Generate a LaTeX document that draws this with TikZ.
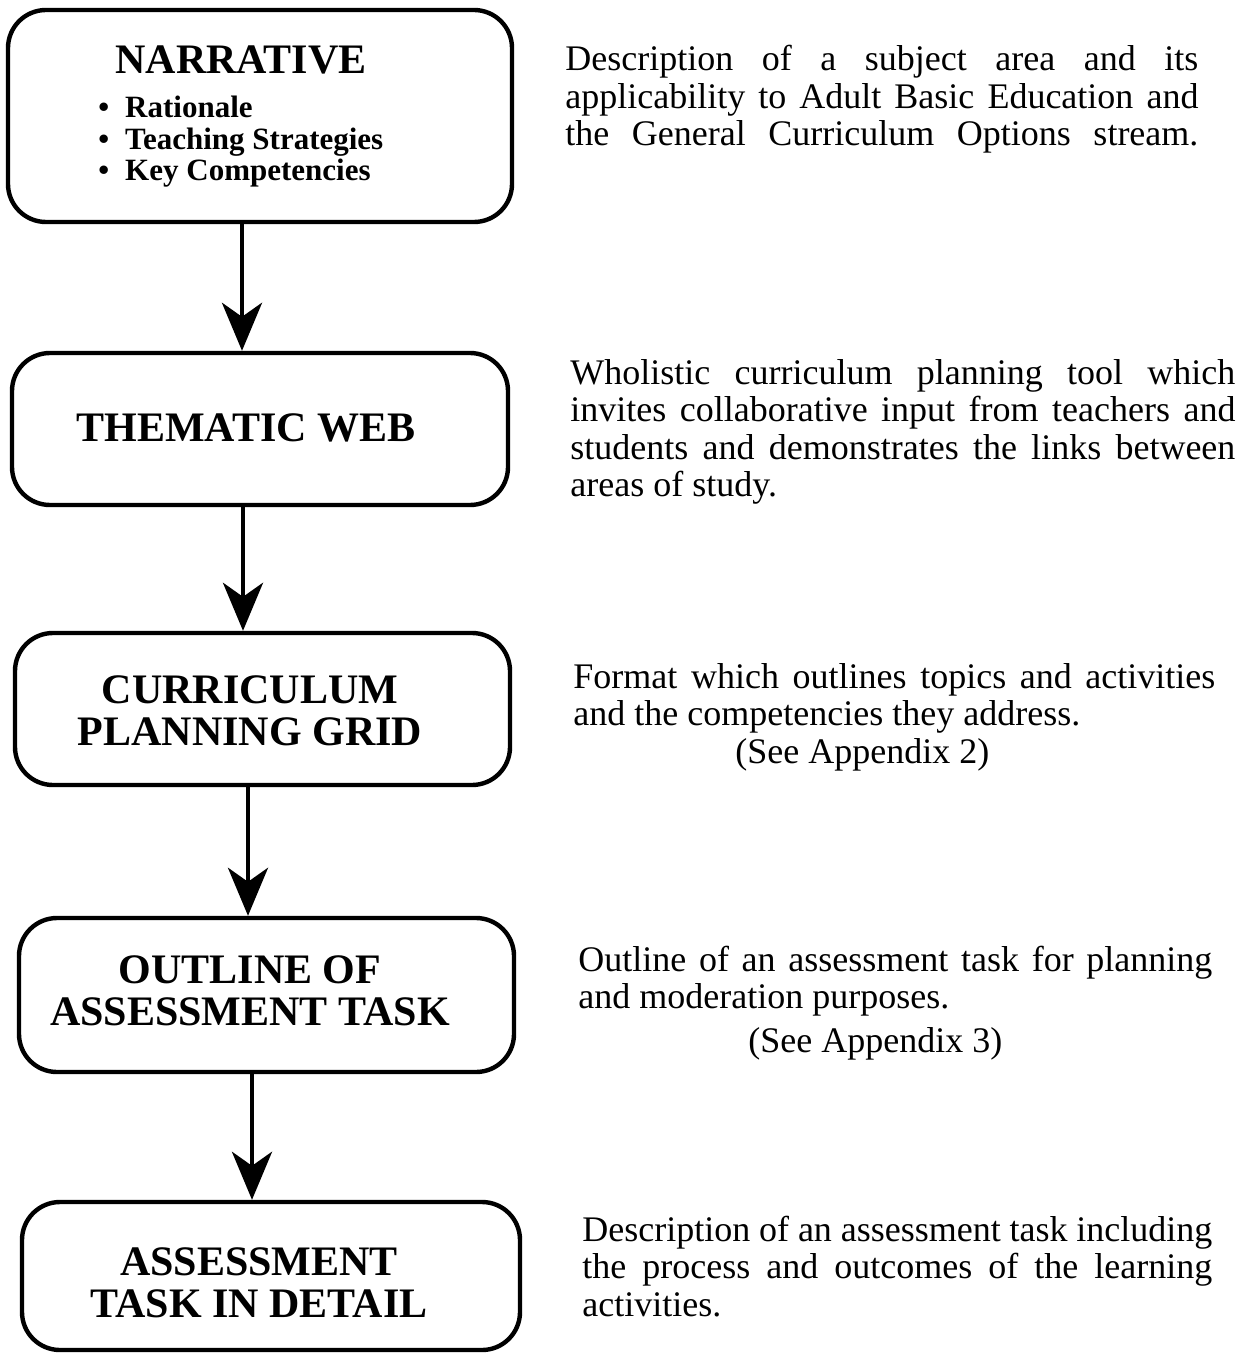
\documentclass[tikz,border=0pt]{standalone}
\usepackage{fontspec}
\setmainfont{Liberation Serif}
\usepackage{tikz}
\usetikzlibrary{arrows.meta, positioning, calc}
\tikzstyle{stage} = [draw, rounded corners=19pt, line width=2.2pt, inner sep=0pt]
\tikzstyle{head} = [font=\bfseries\fontsize{21}{21}\selectfont, align=center, inner sep=0pt]
\tikzstyle{items} = [font=\bfseries\fontsize{15.5}{15.75}\selectfont, align=left, anchor=west, inner sep=0pt]
\tikzstyle{desc} = [font=\fontsize{18}{18.75}\selectfont, align=justify, anchor=base west, inner sep=0pt]
\tikzstyle{arrow} = [line width=2.2pt, -{Stealth[length=24pt,width=20pt,inset=7pt]}]

\begin{document}
\begin{tikzpicture}[x=0.5pt,y=-0.5pt]
\useasboundingbox (0,0) rectangle (1250,1353);
% stages
\node[stage, minimum width=252pt, minimum height=106pt] (narr) at (260,116) {};
\node[stage, minimum width=248pt, minimum height=76pt] (theme) at (260,429) {};
\node[stage, minimum width=247.5pt, minimum height=76pt] (plan) at (262.5,709) {};
\node[stage, minimum width=247.5pt, minimum height=77pt] (outl) at (266.5,995) {};
\node[stage, minimum width=249pt, minimum height=74pt] (detail) at (271,1276) {};
% stage titles
\node[head] (narrt) at (241,60) {NARRATIVE};
\node[items] (narri) at (98,142) {\textbullet\hspace{8pt}Rationale\\ \textbullet\hspace{8pt}Teaching Strategies\\ \textbullet\hspace{8pt}Key Competencies};
\node[head] (themet) at (246,428) {THEMATIC WEB};
\node[head] (plant) at (250,711) {CURRICULUM\\ PLANNING GRID};
\node[head] (outlt) at (250,991) {OUTLINE OF\\ ASSESSMENT TASK};
\node[head] (detailt) at (259,1283) {ASSESSMENT\\ TASK IN DETAIL};
% arrows
\draw[arrow] ([xshift=-9pt]narr.south) -- ([xshift=-9pt]narr.south |- theme.north);
\draw[arrow] ([xshift=-8.5pt]theme.south) -- ([xshift=-8.5pt]theme.south |- plan.north);
\draw[arrow] ([xshift=-7.25pt]plan.south) -- ([xshift=-7.25pt]plan.south |- outl.north);
\draw[arrow] ([xshift=-7.25pt]outl.south) -- ([xshift=-7.25pt]outl.south |- detail.north);
% descriptions
\node[desc, text width=316.5pt] (narrd) at (565,71) {Description of a subject area and its\linebreak applicability to Adult Basic Education and\linebreak the General Curriculum Options stream.\parfillskip=0pt\par};
\node[desc, text width=332.5pt] (themed) at (570,384) {Wholistic curriculum planning tool which\linebreak invites collaborative input from teachers and\linebreak students and demonstrates the links between\linebreak areas of study.};
\node[desc, text width=321pt] (pland) at (573,688) {Format which outlines topics and activities\linebreak and the competencies they address.\par\hspace*{81pt}(See Appendix 2)};
\node[desc, text width=317pt] (outld) at (578,971) {Outline of an assessment task for planning\linebreak and moderation purposes.\par\vspace{3pt}\hspace*{85pt}(See Appendix 3)};
\node[desc, text width=315pt] (detaild) at (582,1241) {Description of an assessment task including\linebreak the process and outcomes of the learning\linebreak activities.};
\end{tikzpicture}
\end{document}
